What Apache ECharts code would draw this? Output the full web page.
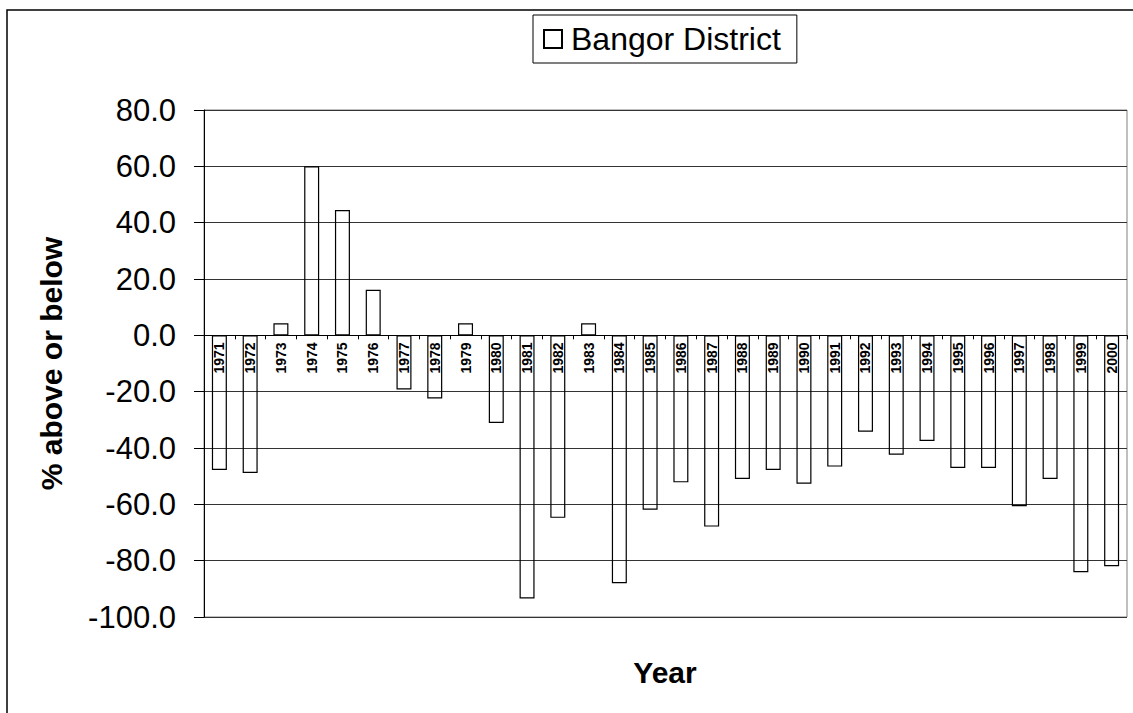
<!DOCTYPE html>
<html>
<head>
<meta charset="utf-8">
<script src="https://cdn.jsdelivr.net/npm/echarts@6/dist/echarts.min.js"></script>
<style>
html,body{margin:0;padding:0;background:#fff;}
#chart{width:1133px;height:713px;}
</style>
</head>
<body>
<div id="chart"></div>
<script>
const years = ['1971','1972','1973','1974','1975','1976','1977','1978','1979','1980',
  '1981','1982','1983','1984','1985','1986','1987','1988','1989','1990',
  '1991','1992','1993','1994','1995','1996','1997','1998','1999','2000'];
const bangorValues = [-47.8,-48.9,4.3,60.0,44.5,16.2,-19.2,-22.4,4.3,-31.1,
  -93.4,-64.8,4.3,-88.0,-61.9,-52.2,-67.9,-51.0,-47.8,-52.7,
  -46.6,-34.2,-42.4,-37.5,-47.1,-47.1,-60.7,-51.0,-84.1,-82.0];
const seriesName = 'Bangor District';
const yAxisTitle = '% above or below';
const xAxisTitle = 'Year';
const yMin = -100, yMax = 80, yStep = 20;

const FONT = "'Liberation Sans', Arial, sans-serif";
const gridTop = 110, gridBottom = 96, chartH = 713;
const plotH = chartH - gridTop - gridBottom;
// place the category axis on the zero line
const zeroOffset = -plotH * (0 - yMin) / (yMax - yMin);

const chart = echarts.init(document.getElementById('chart'), null, {renderer:'svg'});
chart.setOption({
  backgroundColor:'#fff',
  animation:false,
  graphic:[
    {type:'rect', shape:{x:7, y:10, width:1200, height:800}, style:{fill:'none', stroke:'#000', lineWidth:1.5}, z:-10},
    {type:'text', x:665, y:672, style:{text:xAxisTitle, font:"bold 30px 'Liberation Sans', Arial, sans-serif", fill:'#000', textAlign:'center', textVerticalAlign:'middle'}}
  ],
  legend:{
    data:[{name:seriesName, icon:'rect'}],
    left:533, top:15,
    padding:[8,16,8,10],
    borderColor:'#000', borderWidth:1,
    itemWidth:18, itemHeight:18,
    textStyle:{fontFamily:FONT, fontSize:32, color:'#000', padding:[0,0,0,4]},
    selectedMode:false
  },
  grid:{left:204, right:6, top:gridTop, bottom:gridBottom, show:true, borderColor:'#808080', borderWidth:1},
  xAxis:{
    type:'category',
    data:years,
    z:5,
    offset:zeroOffset,
    axisLine:{onZero:false, lineStyle:{color:'#000', width:1}},
    axisTick:{show:true, length:4, lineStyle:{color:'#000'}},
    axisLabel:{rotate:90, interval:0, margin:7, fontFamily:FONT, fontWeight:'bold', fontSize:14, color:'#000'},
    splitLine:{show:false}
  },
  yAxis:{
    type:'value',
    min:yMin, max:yMax, interval:yStep,
    name:yAxisTitle,
    nameLocation:'middle',
    nameGap:138,
    nameTextStyle:{fontFamily:FONT, fontWeight:'bold', fontSize:30, color:'#000'},
    axisLine:{show:true, lineStyle:{color:'#000', width:1}},
    axisTick:{show:true, length:10, lineStyle:{color:'#000'}},
    axisLabel:{margin:28, fontFamily:FONT, fontSize:31, color:'#000', formatter:v=>v.toFixed(1)},
    splitLine:{show:true, lineStyle:{color:'#333', width:1}}
  },
  series:[{
    name:seriesName,
    type:'bar',
    data:bangorValues,
    barWidth:15,
    itemStyle:{color:'rgba(255,255,255,0)', borderColor:'#000', borderWidth:1.2}
  }]
});
</script>
</body>
</html>
